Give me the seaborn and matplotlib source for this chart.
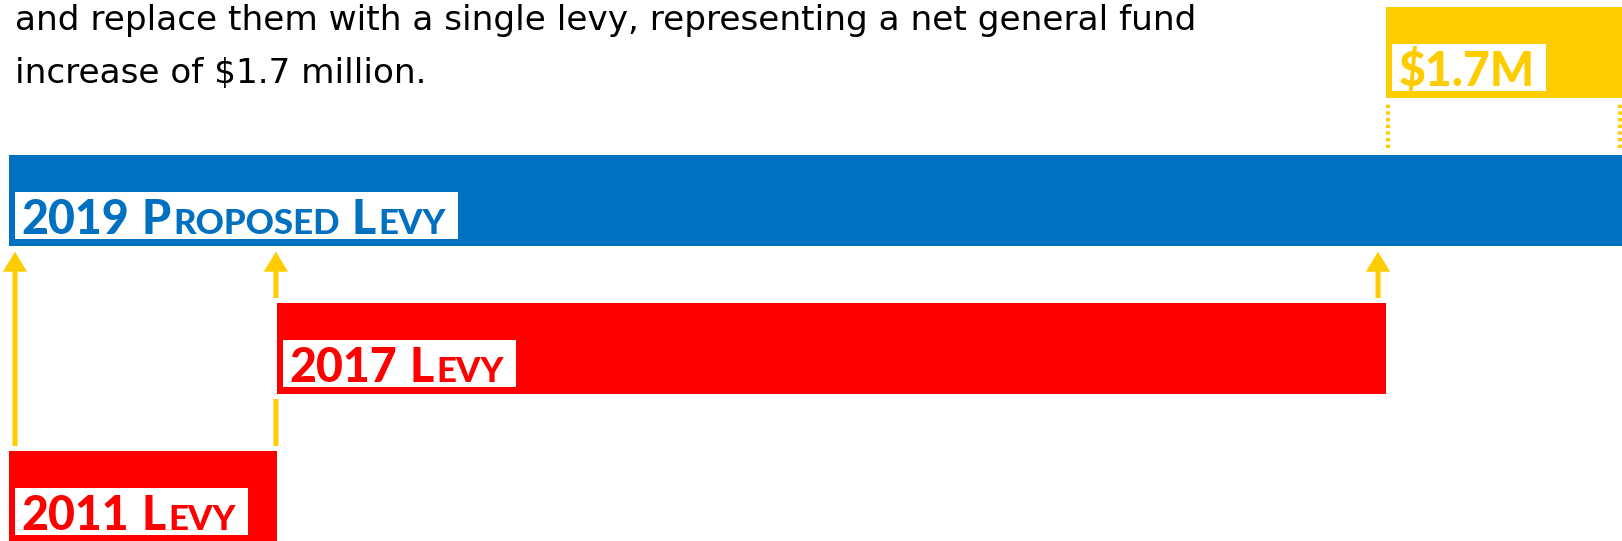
import numpy as np
import pandas as pd
import matplotlib
matplotlib.use("Agg")
import matplotlib.pyplot as plt
import matplotlib.transforms as mtransforms
import matplotlib.patheffects as pe
from matplotlib.patches import Rectangle
import seaborn as sns

# ---------------- data ----------------
intro_lines = [
    "and replace them with a single levy, representing a net general fund",
    "increase of $1.7 million.",
]
row_labels = ["$1.7M", "2019 Proposed Levy", "2017 Levy", "2011 Levy"]
levy_2011 = 1.93        # $ millions
levy_2017 = 7.99        # $ millions
net_increase = 1.70     # $ millions
proposed_2019 = 11.62   # $ millions
bar_colors = ["#FFCC00", "#0070C0", "#FF0000", "#FF0000"]

widths = [net_increase, proposed_2019, levy_2017, levy_2011]
starts = [levy_2011 + levy_2017, 0.0, levy_2011, 0.0]

GOLD = bar_colors[0]

# ---------------- style ----------------
sns.set_theme(style="white")
plt.rcParams["font.family"] = ["Lato", "DejaVu Sans"]

DPI = 100
fig = plt.figure(figsize=(16.22, 5.41), dpi=DPI)
ax = fig.add_axes([0, 0, 1, 1])

BAR_H = 0.615
df = pd.DataFrame({"label": row_labels, "amount": widths})
sns.barplot(data=df, x="amount", y="label", hue="label", order=row_labels,
            hue_order=row_labels, palette=dict(zip(row_labels, bar_colors)),
            orient="h", width=BAR_H, saturation=1, legend=False, ax=ax,
            linewidth=0)

halo = [pe.withStroke(linewidth=7.2, foreground="white")]
for p in ax.patches:
    row = int(round(p.get_y() + p.get_height() / 2))
    p.set_x(starts[row])
    p.set_zorder(3)
    p.set_path_effects(halo)

ax.set_xlim(-0.0648, proposed_2019)
ax.set_ylim(3.3027, -0.3527)
ax.axis("off")

# ---------------- arrows ----------------
def offset_tr(dx=0, dy=0):
    return mtransforms.offset_copy(ax.transData, fig=fig, x=dx, y=dy, units="dots")

arrow_specs = [  # (x data, source row, inset px)
    (starts[3], 3, 6),
    (starts[3] + widths[3], 3, -1),
    (starts[2] + widths[2], 2, -8),
]
blue_bottom = 1 + BAR_H / 2
for x, src_row, dx in arrow_specs:
    tr = offset_tr(dx)
    ax.annotate("", xy=(x, blue_bottom), xycoords=tr,
                xytext=(x, src_row - BAR_H / 2), textcoords=tr,
                arrowprops=dict(arrowstyle="simple,head_length=1.2,head_width=1.45,tail_width=0.3",
                                mutation_scale=12, fc=GOLD, ec="none", lw=0,
                                shrinkA=0, shrinkB=4.3),
                zorder=1)

# dotted guides for the increase
for x, dx in [(starts[0], 2), (starts[0] + widths[0], -2)]:
    ax.plot([x, x], [0 + BAR_H / 2, 1 - BAR_H / 2], transform=offset_tr(dx),
            color=GOLD, lw=3, ls=(0, (0.8, 0.8)), dash_capstyle="butt", zorder=1)

# ---------------- labels (small caps) ----------------
fig.canvas.draw()
renderer = fig.canvas.get_renderer()
ident = mtransforms.IdentityTransform()

LABEL_PT = 33.5
SMALL = 0.75
em_px = LABEL_PT * DPI / 72
CAP = 0.7165 * em_px


def word_groups(word):
    groups = []
    for ch in word:
        small = ch.islower()
        if groups and groups[-1][1] == small:
            groups[-1][0] += ch.upper() if small else ch
        else:
            groups.append([ch.upper() if small else ch, small])
    return groups


for row, label in enumerate(row_labels):
    color = bar_colors[row]
    bx, by = ax.transData.transform((starts[row], row + BAR_H / 2))
    x0 = bx + 12.3
    y0 = by + 11.8
    x = x0
    right = x0
    for wi, word in enumerate(label.split(" ")):
        if wi > 0:
            x = right + 0.26 * em_px
        for gi, (txt, small) in enumerate(word_groups(word)):
            if gi > 0:
                x = right + 0.06 * em_px
            t = ax.text(x, y0, txt, transform=ident, fontsize=LABEL_PT * (SMALL if small else 1),
                        fontweight="black", color=color, va="baseline", ha="left", zorder=6)
            w = t.get_window_extent(renderer).width
            right = x + w
    ax.add_patch(Rectangle((x0 - 6, y0 - 5), (right - x0) + 6 + 12, CAP + 5 + 8.5,
                           transform=ident, facecolor="white", edgecolor="none", zorder=5))

# ---------------- intro text ----------------
H = 541
for line, base in zip(intro_lines, [30, 83]):
    fig.text(15 / 1622, 1 - base / H, line, fontsize=24.7, color="black",
             va="baseline", ha="left", family=["DejaVu Sans"])

fig.savefig("out.png", dpi=DPI)
